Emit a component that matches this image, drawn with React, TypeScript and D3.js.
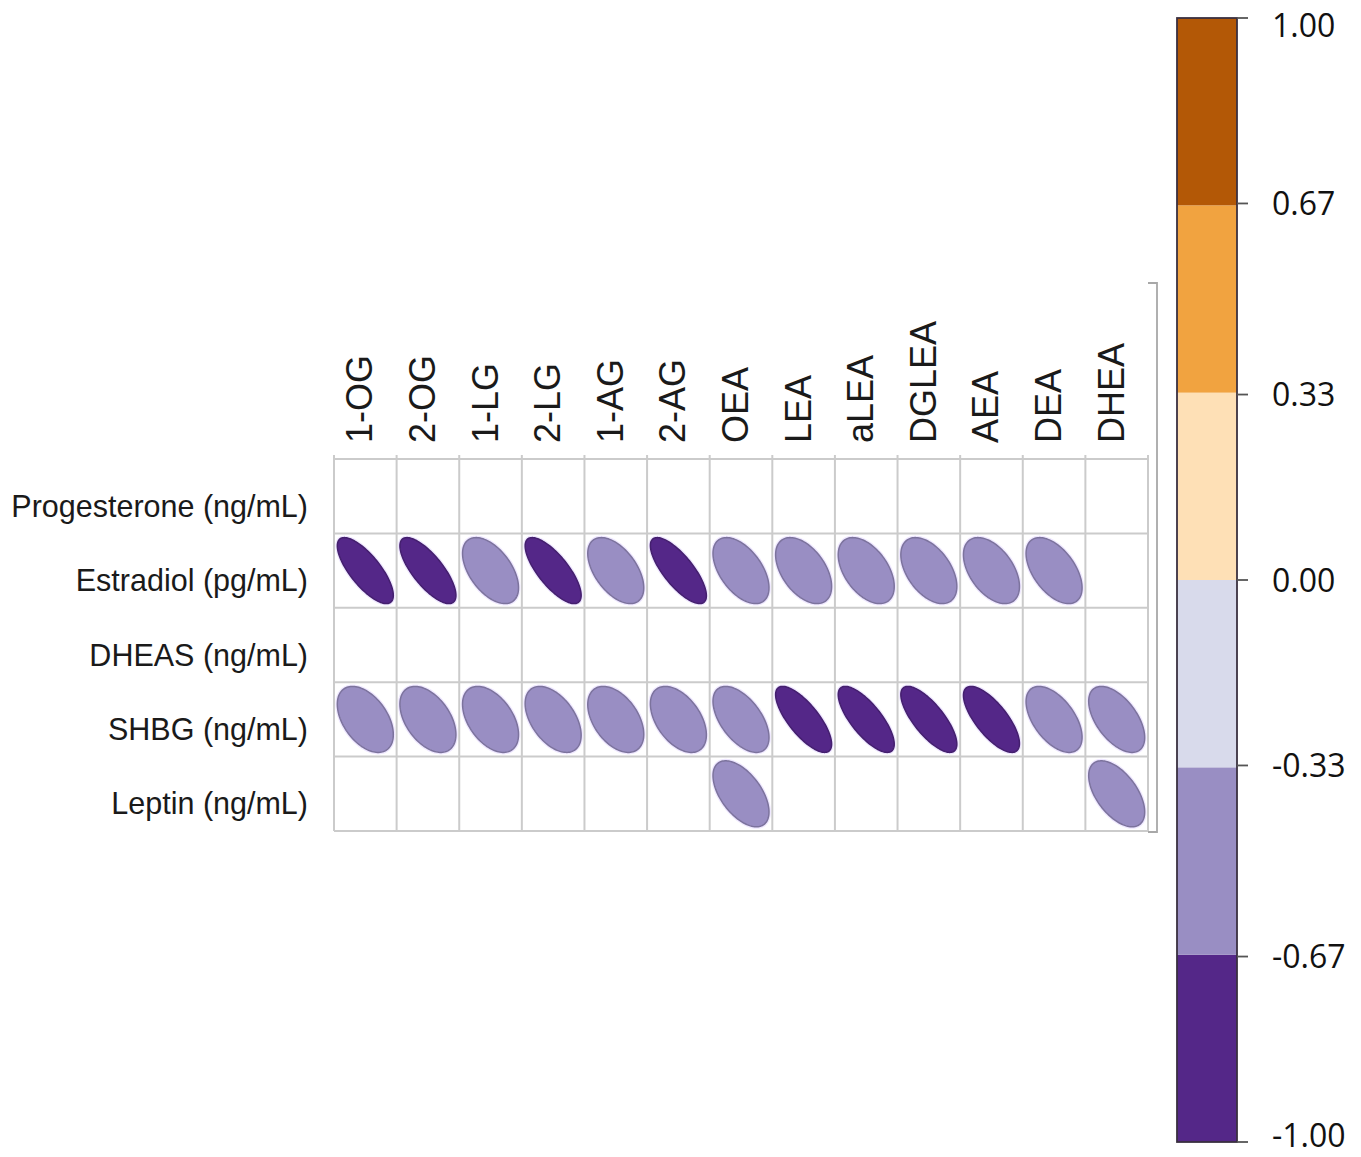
import React from "react";
import * as d3 from "d3";

const columns = ["1-OG", "2-OG", "1-LG", "2-LG", "1-AG", "2-AG", "OEA", "LEA", "aLEA", "DGLEA", "AEA", "DEA", "DHEA"];
const rows = ["Progesterone (ng/mL)", "Estradiol (pg/mL)", "DHEAS (ng/mL)", "SHBG (ng/mL)", "Leptin (ng/mL)"];

// correlation values (null = not shown)
const progesteroneValues: (number | null)[] = [null, null, null, null, null, null, null, null, null, null, null, null, null];
const estradiolValues: (number | null)[] = [-0.75, -0.75, -0.52, -0.75, -0.52, -0.76, -0.52, -0.48, -0.48, -0.48, -0.48, -0.52, null];
const dheasValues: (number | null)[] = [null, null, null, null, null, null, null, null, null, null, null, null, null];
const shbgValues: (number | null)[] = [-0.46, -0.46, -0.46, -0.48, -0.45, -0.47, -0.55, -0.75, -0.75, -0.75, -0.73, -0.54, -0.55];
const leptinValues: (number | null)[] = [null, null, null, null, null, null, -0.55, null, null, null, null, null, -0.55];
const matrix = [progesteroneValues, estradiolValues, dheasValues, shbgValues, leptinValues];

const legendColors = ["#542788", "#998ec3", "#d8daeb", "#fee0b6", "#f1a340", "#b35806"];
const legendTicks = [-1, -0.67, -0.33, 0, 0.33, 0.67, 1];
const legendTickLabels = ["-1.00", "-0.67", "-0.33", "0.00", "0.33", "0.67", "1.00"];

const strokeFor = (c: string) => d3.color(c)!.darker(0.6).formatHex();

export default function App() {
  const W = 1361, H = 1157;
  const x = d3.scaleBand<string>().domain(columns).range([334, 1148]).padding(0);
  const y = d3.scaleBand<string>().domain(rows).range([459, 831]).padding(0);
  const color = d3.scaleQuantize<string>().domain([-1, 1]).range(legendColors);
  const ly = d3.scaleLinear().domain([-1, 1]).range([1142, 18]);

  const sx = 28, sy = 33;
  const ts = d3.range(0, 2 * Math.PI + 0.001, Math.PI / 60);
  const ellipsePath = (r: number) => {
    const dd = Math.acos(r);
    const line = d3.line<number>()
      .x((t) => Math.cos(t + dd / 2) * sx)
      .y((t) => -Math.cos(t - dd / 2) * sy)
      .curve(d3.curveLinearClosed);
    return line(ts) || "";
  };

  const bw = x.bandwidth();
  const bh = y.bandwidth();

  return (
    <svg width={W} height={H} style={{ position: "absolute", left: 0, top: 0, background: "#fff" }}>
      <rect x={0} y={0} width={W} height={H} fill="#fff" />
      {/* outer frame line on the right */}
      <path d={`M1148,283 L1157,283 L1157,832 L1148,832`} fill="none" stroke="#a8a8a8" strokeWidth={1.8} />
      {/* grid */}
      {rows.map((r) => (
        <line key={"h" + r} x1={334} x2={1148} y1={y(r)!} y2={y(r)!} stroke="#cbcbcb" strokeWidth={2} />
      ))}
      <line x1={334} x2={1148} y1={831} y2={831} stroke="#cbcbcb" strokeWidth={2} />
      {columns.map((c) => (
        <line key={"v" + c} x1={x(c)!} x2={x(c)!} y1={455} y2={831} stroke="#cbcbcb" strokeWidth={2} />
      ))}
      <line x1={1148} x2={1148} y1={455} y2={831} stroke="#cbcbcb" strokeWidth={2} />

      {/* ellipses */}
      {matrix.map((vals, ri) =>
        vals.map((v, ci) => {
          if (v === null) return null;
          const cx = x(columns[ci])! + bw / 2;
          const cy = y(rows[ri])! + bh / 2;
          const fill = color(v);
          return (
            <g key={ri + "-" + ci} transform={`translate(${cx},${cy})`}>
              <path d={ellipsePath(v)} fill="none" stroke="#efe8ff" strokeWidth={4} />
              <path d={ellipsePath(v)} fill={fill} stroke={strokeFor(fill)} strokeWidth={1.5} />
            </g>
          );
        })
      )}

      {/* column labels */}
      {columns.map((c) => {
        const cx = x(c)! + bw / 2 - 6;
        return (
          <text key={"cl" + c} transform={`translate(${cx},443) rotate(-90)`} dy="0.36em"
            fontFamily="'Liberation Sans', Arial, sans-serif" fontSize={36} fill="#1a1a1a">
            {c}
          </text>
        );
      })}

      {/* row labels */}
      {rows.map((r) => (
        <text key={"rl" + r} x={308} y={y(r)! + bh / 2 + 10} dy="0.35em" textAnchor="end"
          fontFamily="'Liberation Sans', Arial, sans-serif" fontSize={30.5} fill="#1a1a1a">
          {r}
        </text>
      ))}

      {/* color legend */}
      {legendColors.map((c, i) => (
        <rect key={"lg" + i} x={1177} width={60} y={ly(-1 + (i + 1) / 3)} height={ly(-1 + i / 3) - ly(-1 + (i + 1) / 3)} fill={c} />
      ))}
      <rect x={1177} y={18} width={60} height={1124} fill="none" stroke="#3a3040" strokeWidth={1.8} />
      {legendTicks.map((t, i) => (
        <g key={"lt" + i}>
          <line x1={1237} x2={1248} y1={ly(t)} y2={ly(t)} stroke="#555" strokeWidth={1.8} />
          <text x={1272} y={Math.min(Math.max(ly(t), 25), 1135)} dy="0.36em"
            fontFamily="'Open Sans', 'Noto Sans', sans-serif" fontSize={32} fill="#111">
            {legendTickLabels[i]}
          </text>
        </g>
      ))}
    </svg>
  );
}
